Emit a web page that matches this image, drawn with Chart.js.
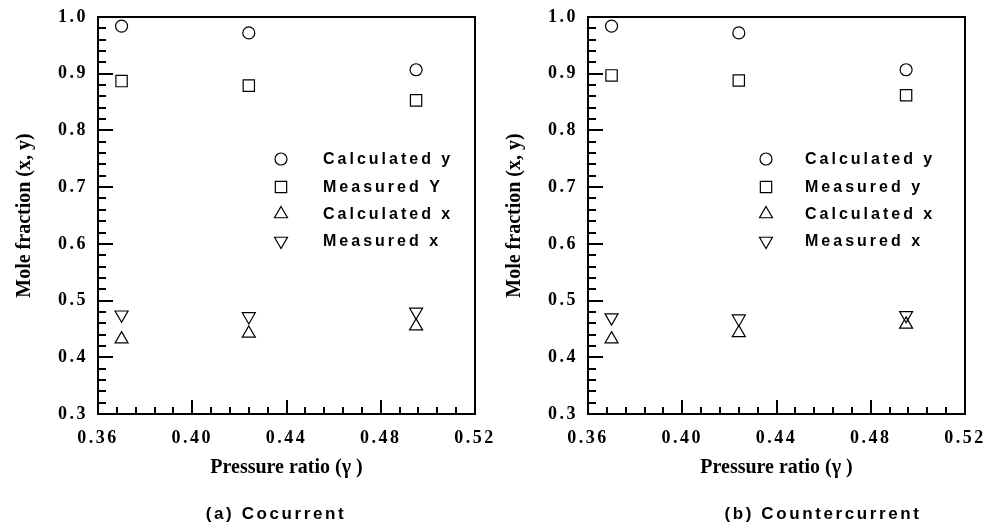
<!DOCTYPE html>
<html>
<head>
<meta charset="utf-8">
<script src="https://cdn.jsdelivr.net/npm/chart.js@4/dist/chart.umd.min.js"></script>
<style>
  body { margin: 0; background: #fff; }
  #wrap { position: relative; width: 989px; height: 529px; overflow: hidden; }
  .box { position: absolute; top: 0; height: 529px; }
  .cap { position: absolute; top: 504px; font: bold 17px "Liberation Sans", Arial, sans-serif;
         letter-spacing: 2.6px; color: #000; white-space: nowrap; transform: translateX(-50%); }
</style>
</head>
<body>
<div id="wrap">
  <div class="box" style="left:0;width:520px"><canvas id="chartA"></canvas></div>
  <div class="box" style="left:490px;width:499px"><canvas id="chartB"></canvas></div>
  <div class="cap" style="left:276px">(a) Cocurrent</div>
  <div class="cap" style="left:823px">(b) Countercurrent</div>
</div>
<script>
// pressure ratio at which the three runs were made
const pressureRatio = [0.370, 0.424, 0.495];

// (a) cocurrent
const calcYA = [0.984, 0.972, 0.907];
const measYA = [0.887, 0.879, 0.853];
const calcXA = [0.432, 0.442, 0.455];
const measXA = [0.475, 0.472, 0.480];

// (b) countercurrent
const calcYB = [0.984, 0.972, 0.907];
const measYB = [0.897, 0.888, 0.862];
const calcXB = [0.432, 0.443, 0.458];
const measXB = [0.470, 0.468, 0.474];

const labelsA = ['Calculated y', 'Measured Y', 'Calculated x', 'Measured x'];
const labelsB = ['Calculated y', 'Measured y', 'Calculated x', 'Measured x'];

const xTicks = [0.36, 0.40, 0.44, 0.48, 0.52];
const yTicks = [0.3, 0.4, 0.5, 0.6, 0.7, 0.8, 0.9, 1.0];

const serif = '"Liberation Serif", "Times New Roman", serif';
const sans = '"Liberation Sans", Arial, sans-serif';

const markers = [
  { pointStyle: 'circle', radius: 6, rotation: 0 },
  { pointStyle: 'rect', radius: 8, rotation: 0 },
  { pointStyle: 'triangle', radius: 7.5, rotation: 0 },
  { pointStyle: 'triangle', radius: 7.5, rotation: 180 }
];

function pts(vals) {
  return pressureRatio.map((x, i) => ({ x: x, y: vals[i] }));
}

function makeDatasets(series, labels) {
  return series.map((vals, i) => ({
    label: labels[i],
    data: pts(vals),
    pointStyle: markers[i].pointStyle,
    pointRadius: markers[i].radius,
    pointRotation: markers[i].rotation,
    pointBorderColor: '#000',
    pointBackgroundColor: 'rgba(0,0,0,0)',
    pointBorderWidth: 1.2,
    showLine: false
  }));
}

// frame + inward ticks, then letter spacing for the tick labels drawn after
const frameTicks = {
  id: 'frameTicks',
  beforeDraw(chart) {
    chart.ctx.letterSpacing = '0px';
  },
  afterDatasetsDraw(chart) {
    const { ctx, chartArea: a, scales: { x, y } } = chart;
    ctx.save();
    ctx.strokeStyle = '#000';
    ctx.lineWidth = 2;
    ctx.strokeRect(a.left, a.top, a.right - a.left, a.bottom - a.top);
    ctx.beginPath();
    for (let i = 0; i <= 20; i++) {
      const px = Math.round(x.getPixelForValue(0.36 + i * 0.008));
      const len = i % 5 === 0 ? 14 : 7;
      ctx.moveTo(px, a.bottom);
      ctx.lineTo(px, a.bottom - len);
    }
    for (let i = 0; i <= 35; i++) {
      const py = Math.round(y.getPixelForValue(0.3 + i * 0.02));
      const len = i % 5 === 0 ? 15 : 8;
      ctx.moveTo(a.left, py);
      ctx.lineTo(a.left + len, py);
    }
    ctx.stroke();
    ctx.restore();
    ctx.letterSpacing = '2.5px';
  },
  afterDraw(chart) {
    const ctx = chart.ctx;
    const lg = chart.options.plugins.keyBox;
    ctx.save();
    ctx.letterSpacing = '3px';
    ctx.font = 'bold 16px ' + sans;
    ctx.textBaseline = 'middle';
    ctx.textAlign = 'left';
    chart.data.datasets.forEach((ds, i) => {
      const yy = lg.rows[i];
      ctx.strokeStyle = '#000';
      ctx.fillStyle = 'rgba(0,0,0,0)';
      ctx.lineWidth = 1.2;
      Chart.helpers.drawPoint(ctx, {
        pointStyle: markers[i].pointStyle,
        radius: markers[i].radius,
        rotation: markers[i].rotation,
        borderWidth: 1.2
      }, lg.markX, yy);
      ctx.fillStyle = '#000';
      ctx.fillText(ds.label, lg.textX, yy + 1);
    });
    ctx.restore();
    ctx.letterSpacing = '0px';
  }
};

function makeChart(id, series, labels, padRight, keyBox) {
  return new Chart(document.getElementById(id), {
    type: 'scatter',
    data: { datasets: makeDatasets(series, labels) },
    options: {
      responsive: true,
      maintainAspectRatio: false,
      animation: false,
      events: [],
      layout: { padding: { left: 0, right: padRight, top: 17, bottom: 40 } },
      plugins: {
        legend: { display: false },
        tooltip: { enabled: false },
        keyBox: keyBox
      },
      scales: {
        x: {
          type: 'linear',
          min: 0.36,
          max: 0.52,
          afterBuildTicks(scale) {
            scale.ticks = xTicks.map(v => ({ value: v }));
          },
          afterFit(scale) {
            scale.height = 75;
            scale.paddingLeft = 0;
            scale.paddingRight = 0;
          },
          grid: { display: false, drawTicks: false },
          border: { display: false },
          ticks: {
            z: 1,
            padding: 14,
            color: '#000',
            font: { family: serif, size: 18, weight: 'bold' },
            callback: v => v.toFixed(2)
          },
          title: {
            display: true,
            text: 'Pressure ratio (\u03B3 )',
            color: '#000',
            font: { family: serif, size: 20, weight: 'bold' },
            padding: { top: 0, bottom: 9 }
          }
        },
        y: {
          type: 'linear',
          min: 0.3,
          max: 1.0,
          afterBuildTicks(scale) {
            scale.ticks = yTicks.map(v => ({ value: v }));
          },
          afterFit(scale) {
            scale.width = 98;
            scale.paddingTop = 0;
            scale.paddingBottom = 0;
          },
          grid: { display: false, drawTicks: false },
          border: { display: false },
          ticks: {
            z: 1,
            padding: 10,
            color: '#000',
            font: { family: serif, size: 18, weight: 'bold' },
            callback: v => v.toFixed(1)
          },
          title: {
            display: true,
            text: 'Mole fraction (x, y)',
            color: '#000',
            font: { family: serif, size: 20, weight: 'bold' },
            padding: { top: 13, bottom: 0 }
          }
        }
      }
    },
    plugins: [frameTicks]
  });
}

makeChart('chartA', [calcYA, measYA, calcXA, measXA], labelsA, 45,
  { markX: 281, textX: 323, rows: [159, 187, 214, 241] });
makeChart('chartB', [calcYB, measYB, calcXB, measXB], labelsB, 24,
  { markX: 276, textX: 315, rows: [159, 187, 214, 241] });
</script>
</body>
</html>
